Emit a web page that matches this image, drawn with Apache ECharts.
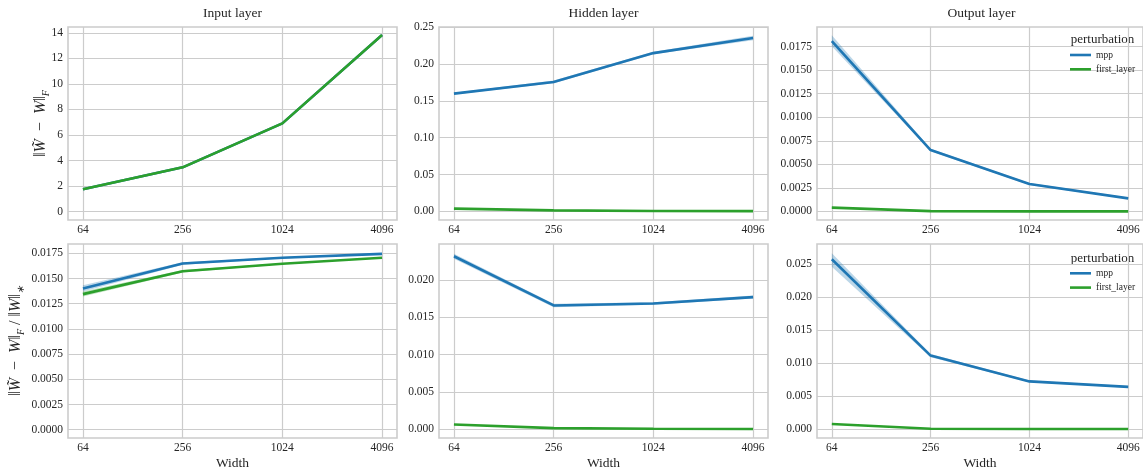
<!DOCTYPE html>
<html>
<head>
<meta charset="utf-8">
<script src="https://cdn.jsdelivr.net/npm/echarts@6/dist/echarts.min.js"></script>
<style>
  html, body { margin: 0; padding: 0; background: #ffffff; }
  #chart { width: 1143px; height: 474px; }
</style>
</head>
<body>
<div id="chart"></div>
<script>
// Network widths on the x axis (log-spaced)
const widths = [64, 256, 1024, 4096];
const columnTitles = ['Input layer', 'Hidden layer', 'Output layer'];
const perturbations = ['mpp', 'first_layer'];

// ---- Row 1: ||W~ - W||_F ----
// Input layer
const inFroMpp     = [1.75, 3.47, 6.91, 13.82];
const inFroMppLo   = [1.72, 3.44, 6.88, 13.78];
const inFroMppHi   = [1.78, 3.50, 6.94, 13.86];
const inFroFirst   = [1.75, 3.47, 6.91, 13.82];
const inFroFirstLo = [1.72, 3.44, 6.88, 13.78];
const inFroFirstHi = [1.78, 3.50, 6.94, 13.86];
// Hidden layer
const hidFroMpp     = [0.1600, 0.1757, 0.2150, 0.2355];
const hidFroMppLo   = [0.1588, 0.1740, 0.2135, 0.2325];
const hidFroMppHi   = [0.1612, 0.1778, 0.2168, 0.2385];
const hidFroFirst   = [0.0036, 0.0013, 0.0005, 0.0002];
const hidFroFirstLo = [0.0030, 0.0010, 0.0004, 0.0001];
const hidFroFirstHi = [0.0042, 0.0016, 0.0006, 0.0003];
// Output layer
const outFroMpp     = [0.01810, 0.00651, 0.00290, 0.00138];
const outFroMppLo   = [0.01755, 0.00638, 0.00280, 0.00130];
const outFroMppHi   = [0.01870, 0.00664, 0.00300, 0.00146];
const outFroFirst   = [0.00040, 0.00002, 0.00000, 0.00000];
const outFroFirstLo = [0.00036, 0.00001, 0.00000, 0.00000];
const outFroFirstHi = [0.00044, 0.00003, 0.00000, 0.00000];

// ---- Row 2: ||W~ - W||_F / ||W||_* ----
// Input layer
const inRelMpp     = [0.01400, 0.01648, 0.01706, 0.01744];
const inRelMppLo   = [0.01370, 0.01635, 0.01698, 0.01738];
const inRelMppHi   = [0.01432, 0.01662, 0.01714, 0.01750];
const inRelFirst   = [0.01345, 0.01572, 0.01646, 0.01706];
const inRelFirstLo = [0.01322, 0.01560, 0.01640, 0.01701];
const inRelFirstHi = [0.01370, 0.01584, 0.01652, 0.01711];
// Hidden layer
const hidRelMpp     = [0.02318, 0.01658, 0.01684, 0.01770];
const hidRelMppLo   = [0.02285, 0.01635, 0.01668, 0.01750];
const hidRelMppHi   = [0.02350, 0.01680, 0.01700, 0.01790];
const hidRelFirst   = [0.00062, 0.00013, 0.00004, 0.00001];
const hidRelFirstLo = [0.00056, 0.00011, 0.00003, 0.00001];
const hidRelFirstHi = [0.00068, 0.00015, 0.00005, 0.00001];
// Output layer
const outRelMpp     = [0.02576, 0.01115, 0.00723, 0.00640];
const outRelMppLo   = [0.02464, 0.01090, 0.00710, 0.00625];
const outRelMppHi   = [0.02667, 0.01140, 0.00736, 0.00655];
const outRelFirst   = [0.00076, 0.00005, 0.00000, 0.00000];
const outRelFirstLo = [0.00070, 0.00004, 0.00000, 0.00000];
const outRelFirstHi = [0.00082, 0.00006, 0.00000, 0.00000];

// y tick values per panel
const yTicksInFro  = [0, 2, 4, 6, 8, 10, 12, 14];
const yTicksHidFro = [0, 0.05, 0.10, 0.15, 0.20, 0.25];
const yTicksOutFro = [0, 0.0025, 0.0050, 0.0075, 0.0100, 0.0125, 0.0150, 0.0175];
const yTicksInRel  = [0, 0.0025, 0.0050, 0.0075, 0.0100, 0.0125, 0.0150, 0.0175];
const yTicksHidRel = [0, 0.005, 0.010, 0.015, 0.020];
const yTicksOutRel = [0, 0.005, 0.010, 0.015, 0.020, 0.025];
const yTickDecimals = [0, 2, 4, 4, 3, 3];

// axis limits (value range shown in each panel)
const yRanges = [
  [-0.65, 14.45], [-0.0118, 0.2505], [-0.00092, 0.01959],
  [-0.00082, 0.01842], [-0.0012, 0.02482], [-0.00136, 0.02808]
];

const panels = [
  { ticks: yTicksInFro,  mpp: [inFroMpp, inFroMppLo, inFroMppHi],   first: [inFroFirst, inFroFirstLo, inFroFirstHi] },
  { ticks: yTicksHidFro, mpp: [hidFroMpp, hidFroMppLo, hidFroMppHi], first: [hidFroFirst, hidFroFirstLo, hidFroFirstHi] },
  { ticks: yTicksOutFro, mpp: [outFroMpp, outFroMppLo, outFroMppHi], first: [outFroFirst, outFroFirstLo, outFroFirstHi] },
  { ticks: yTicksInRel,  mpp: [inRelMpp, inRelMppLo, inRelMppHi],   first: [inRelFirst, inRelFirstLo, inRelFirstHi] },
  { ticks: yTicksHidRel, mpp: [hidRelMpp, hidRelMppLo, hidRelMppHi], first: [hidRelFirst, hidRelFirstLo, hidRelFirstHi] },
  { ticks: yTicksOutRel, mpp: [outRelMpp, outRelMppLo, outRelMppHi], first: [outRelFirst, outRelFirstLo, outRelFirstHi] }
];

const FONT = 'Liberation Serif';
const TEXT = '#262626';
const GRIDC = '#cccccc';
const COLORS = { mpp: '#1f77b4', first_layer: '#2ca02c' };

const xPos = widths.map(w => Math.log2(w));
const colLeft = [68, 439, 817];
const rowTop = [27, 244];
const plotW = 329, plotH = [193, 194];

const grids = [], xAxes = [], yAxes = [], series = [];

const mathRich = {
  i: { fontFamily: FONT, fontStyle: 'italic', fontSize: 16, color: TEXT },
  s: { fontFamily: FONT, fontStyle: 'italic', fontSize: 10, color: TEXT, padding: [10, 0, 0, 0] }
};
const yNames = [
  '‖{i|W̃}  −  {i|W}‖{s|F}', '', '',
  '‖{i|W̃}  −  {i|W}‖{s|F} / ‖{i|W}‖{s|∗}', '', ''
];
const yNameGaps = [17, 0, 0, 42, 0, 0];

panels.forEach((p, idx) => {
  const row = Math.floor(idx / 3), col = idx % 3;
  grids.push({
    left: colLeft[col], top: rowTop[row], width: plotW, height: plotH[row],
    show: true, borderColor: GRIDC, borderWidth: 1.6, backgroundColor: '#ffffff',
    containLabel: false
  });
  xAxes.push({
    type: 'value', gridIndex: idx, min: 5.7, max: 12.3,
    axisLine: { show: false },
    axisTick: { show: false, customValues: xPos },
    axisLabel: {
      customValues: xPos, margin: 4,
      fontFamily: FONT, fontSize: 11.5, color: TEXT,
      formatter: v => String(widths[xPos.findIndex(x => Math.abs(x - v) < 1e-6)])
    },
    splitLine: { show: true, lineStyle: { color: GRIDC, width: 1.2 } },
    name: row === 1 ? 'Width' : '',
    nameLocation: 'middle', nameGap: 18,
    nameTextStyle: { fontFamily: FONT, fontSize: 13.5, color: TEXT }
  });
  yAxes.push({
    type: 'value', gridIndex: idx, min: yRanges[idx][0], max: yRanges[idx][1],
    axisLine: { show: false },
    axisTick: { show: false, customValues: p.ticks },
    axisLabel: {
      customValues: p.ticks, margin: 5,
      fontFamily: FONT, fontSize: 11.5, color: TEXT,
      formatter: v => v.toFixed(yTickDecimals[idx])
    },
    splitLine: { show: true, lineStyle: { color: GRIDC, width: 1.2 } },
    name: yNames[idx], nameLocation: 'middle', nameGap: yNameGaps[idx],
    nameMoveOverlap: false,
    nameTextStyle: { fontFamily: FONT, fontSize: 16, color: TEXT, rich: mathRich }
  });

  perturbations.forEach(key => {
    const [mean, lo, hi] = key === 'mpp' ? p.mpp : p.first;
    const color = COLORS[key];
    series.push({
      type: 'line', name: key, xAxisIndex: idx, yAxisIndex: idx,
      data: xPos.map((x, k) => [x, mean[k]]),
      symbol: 'none', showSymbol: false, silent: true,
      lineStyle: { color: color, width: 2.6 }, itemStyle: { color: color },
      z: 3
    });
    // confidence band drawn through the axis scales
    series.push({
      type: 'custom', name: key + ' band', xAxisIndex: idx, yAxisIndex: idx,
      silent: true, z: 3,
      data: [[xPos[0], mean[0]]],
      renderItem: (params, api) => {
        const pts = [];
        for (let k = 0; k < xPos.length; k++) pts.push(api.coord([xPos[k], hi[k]]));
        for (let k = xPos.length - 1; k >= 0; k--) pts.push(api.coord([xPos[k], lo[k]]));
        return { type: 'polygon', shape: { points: pts }, style: { fill: color, opacity: 0.3 } };
      }
    });
  });
});

const graphics = columnTitles.map((t, c) => ({
  type: 'text', x: colLeft[c] + plotW / 2, y: 13,
  style: { text: t, font: '13.5px "' + FONT + '"', fill: TEXT, align: 'center', verticalAlign: 'middle' }
}));
// legend titles
[40, 258.5].forEach(y => graphics.push({
  type: 'text', x: 1102.5, y: y,
  style: { text: 'perturbation', font: '13px "' + FONT + '"', fill: TEXT, align: 'center', verticalAlign: 'middle' }
}));

const legendBase = {
  orient: 'vertical', left: 1070, icon: 'rect', itemWidth: 21, itemHeight: 2.6,
  itemGap: 3.3, selectedMode: false, padding: 0,
  data: perturbations,
  textStyle: { fontFamily: FONT, fontSize: 9.5, color: TEXT, lineHeight: 11 }
};

const chart = echarts.init(document.getElementById('chart'), null, { renderer: 'canvas' });
chart.setOption({
  animation: false,
  backgroundColor: '#ffffff',
  grid: grids,
  xAxis: xAxes,
  yAxis: yAxes,
  series: series,
  legend: [
    Object.assign({}, legendBase, { top: 49.5 }),
    Object.assign({}, legendBase, { top: 267.8 })
  ],
  graphic: graphics
});
</script>
</body>
</html>
